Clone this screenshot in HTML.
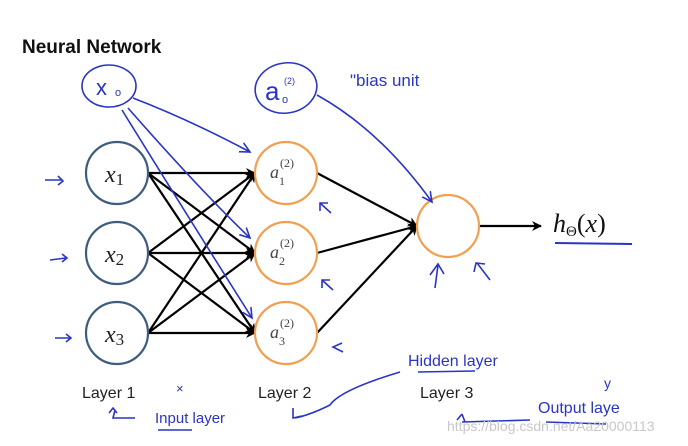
<!DOCTYPE html>
<html><head><meta charset="utf-8"><style>
html,body{margin:0;padding:0;background:#fff;}
svg{display:block;}
.hw{font-family:"Liberation Sans",sans-serif;fill:#2a35c4;}
</style></head><body>
<svg width="688" height="446" viewBox="0 0 688 446" xmlns="http://www.w3.org/2000/svg">
<defs>
<marker id="ah" markerWidth="10" markerHeight="10" refX="9" refY="5" orient="auto" markerUnits="userSpaceOnUse"><path d="M0,0 L10,5 L0,10 L3,5 Z" fill="#000"/></marker>
<marker id="bh" markerWidth="12" markerHeight="12" refX="10" refY="6" orient="auto" markerUnits="userSpaceOnUse"><path d="M0,1 L10,6 L0,11" fill="none" stroke="#2a35c4" stroke-width="1.6"/></marker>
</defs>
<text x="22" y="53" font-family="Liberation Sans, sans-serif" font-weight="bold" font-size="19" fill="#111">Neural Network</text>

<g stroke="#000" stroke-width="2.2" marker-end="url(#ah)">
<line x1="148" y1="173" x2="255" y2="173"/><line x1="148" y1="173" x2="255" y2="253"/><line x1="148" y1="173" x2="255" y2="333"/>
<line x1="148" y1="253" x2="255" y2="173"/><line x1="148" y1="253" x2="255" y2="253"/><line x1="148" y1="253" x2="255" y2="333"/>
<line x1="148" y1="333" x2="255" y2="173"/><line x1="148" y1="333" x2="255" y2="253"/><line x1="148" y1="333" x2="255" y2="333"/>
<line x1="317" y1="173" x2="417" y2="226"/><line x1="317" y1="253" x2="417" y2="226"/><line x1="317" y1="333" x2="417" y2="226"/>
<line x1="480" y1="226" x2="541" y2="226"/>
</g>

<g fill="#fff" stroke-width="2.2">
<circle cx="117" cy="173" r="31" stroke="#3d5c80"/><circle cx="117" cy="253" r="31" stroke="#3d5c80"/><circle cx="117" cy="333" r="31" stroke="#3d5c80"/>
<circle cx="286" cy="173" r="31" stroke="#f0a050"/><circle cx="286" cy="253" r="31" stroke="#f0a050"/><circle cx="286" cy="333" r="31" stroke="#f0a050"/>
<circle cx="448" cy="226" r="31" stroke="#f0a050"/>
</g>
<g font-family="Liberation Serif, serif" font-style="italic" fill="#222">
<text x="105" y="182" font-size="24">x<tspan font-style="normal" font-size="17" dy="3">1</tspan></text>
<text x="105" y="262" font-size="24">x<tspan font-style="normal" font-size="17" dy="3">2</tspan></text>
<text x="105" y="342" font-size="24">x<tspan font-style="normal" font-size="17" dy="3">3</tspan></text>
</g>
<g font-family="Liberation Serif, serif" fill="#444">
<text x="270" y="178" font-size="18" font-style="italic">a</text><text x="280" y="167" font-size="12">(2)</text><text x="279" y="185" font-size="12">1</text>
<text x="270" y="258" font-size="18" font-style="italic">a</text><text x="280" y="247" font-size="12">(2)</text><text x="279" y="265" font-size="12">2</text>
<text x="270" y="338" font-size="18" font-style="italic">a</text><text x="280" y="327" font-size="12">(2)</text><text x="279" y="345" font-size="12">3</text>
</g>
<text x="553" y="232" font-family="Liberation Serif, serif" font-size="26" fill="#111"><tspan font-style="italic">h</tspan><tspan font-size="15" dy="4">Θ</tspan><tspan dy="-4">(</tspan><tspan font-style="italic">x</tspan>)</text>
<line x1="555" y1="243" x2="632" y2="244" stroke="#2a35c4" stroke-width="2"/>

<g font-family="Liberation Sans, sans-serif" font-size="16" fill="#222">
<text x="82" y="398">Layer 1</text><text x="258" y="398">Layer 2</text><text x="420" y="398">Layer 3</text>
</g>

<g fill="none" stroke="#2a35c4" stroke-width="1.6">
<ellipse cx="109" cy="86" rx="27" ry="21"/>
<ellipse cx="286" cy="88" rx="31" ry="25" transform="rotate(-10 286 88)"/>
<path d="M133 98 Q190 120 250 152" marker-end="url(#bh)"/>
<path d="M128 108 Q200 190 250 238" marker-end="url(#bh)"/>
<path d="M122 110 Q190 220 252 318" marker-end="url(#bh)"/>
<path d="M317 95 Q380 130 432 202" marker-end="url(#bh)"/>
<path d="M45 180 L62 180 M58 176 L63 181 L58 185"/>
<path d="M50 260 L66 258 M62 254 L67 258 L62 262"/>
<path d="M55 338 L70 338 M66 334 L71 338 L66 342"/>
<path d="M331 213 L320 203 M320 211 L320 203 L328 203"/>
<path d="M333 290 L322 280 M322 288 L322 280 L330 280"/>
<path d="M343 352 L333 347 L342 343"/>
<path d="M435 288 L438 265 M430 275 L438 264 L444 274"/>
<path d="M490 280 L477 263 M474 272 L476 263 L485 264"/>
<path d="M115 410 L113 418 L135 418 M109 413 L113 408 L117 413"/>
<path d="M400 372 Q340 390 330 405 Q310 415 295 418 M293 408 L293 418 L302 416"/>
<path d="M530 420 L462 422 M457 420 L462 414 M462 414 L465 422"/>
<line x1="158" y1="430" x2="192" y2="430"/>
<line x1="418" y1="372" x2="475" y2="371"/>
<line x1="546" y1="422" x2="606" y2="424"/>
</g>
<g class="hw" font-size="15">
<text x="96" y="95" font-size="22">x</text><text x="115" y="96" font-size="11">o</text>
<text x="265" y="100" font-size="26">a</text><text x="282" y="103" font-size="11">o</text><text x="284" y="84" font-size="9">(2)</text>
<text x="350" y="86" font-size="17">"bias  unit</text>
<text x="176" y="393" font-size="13">×</text>
<text x="155" y="423">Input  layer</text>
<text x="408" y="366" font-size="16">Hidden  layer</text>
<text x="538" y="413" font-size="16">Output  laye</text>
<text x="604" y="388" font-size="14">y</text>
</g>
<text x="447" y="431" font-family="Liberation Sans, sans-serif" font-size="14" fill="#c8c8c8">https://blog.csdn.net/Aa20000113</text>
</svg>
</body></html>
